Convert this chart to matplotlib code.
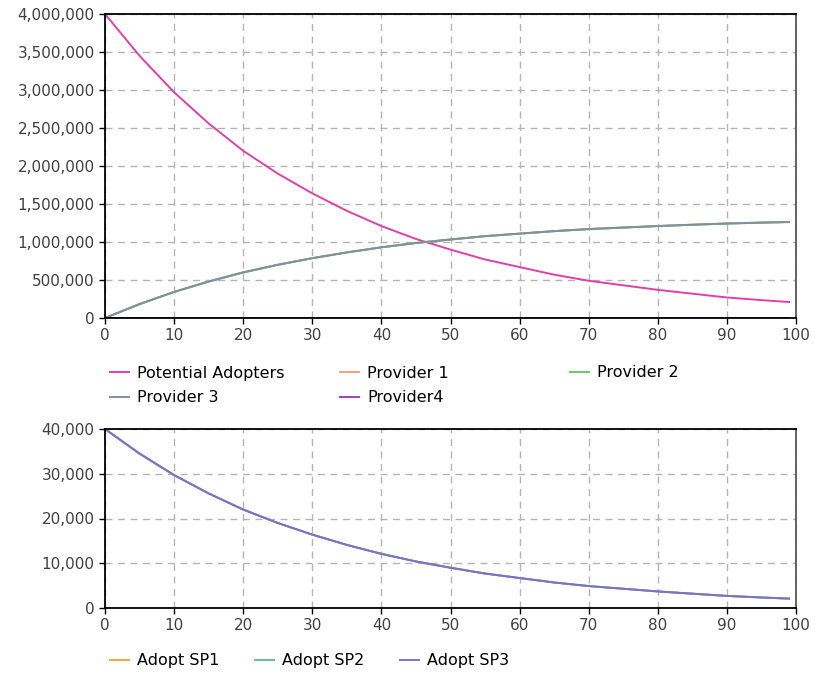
import matplotlib
matplotlib.use("Agg")
import matplotlib.pyplot as plt
from matplotlib.ticker import FuncFormatter, MultipleLocator

t = [0, 5, 10, 15, 20, 25, 30, 35, 40, 45, 50, 55, 60, 65, 70, 75, 80, 85, 90, 95, 99]
potential_adopters = [4000000, 3450000, 2970000, 2560000, 2200000, 1900000, 1640000, 1410000,
                      1210000, 1040000, 900000, 770000, 670000, 570000, 490000, 430000,
                      370000, 320000, 270000, 235000, 210000]
provider1 = [0, 183000, 343000, 480000, 600000, 700000, 787000, 863000, 930000, 987000,
             1033000, 1077000, 1110000, 1143000, 1170000, 1190000, 1210000, 1227000,
             1243000, 1255000, 1263000]
provider2 = list(provider1)
provider3 = list(provider1)
provider4 = [0] * len(t)

adopt_sp1 = [40000, 34500, 29700, 25600, 22000, 19000, 16400, 14100, 12100, 10400, 9000,
             7700, 6700, 5700, 4900, 4300, 3700, 3200, 2700, 2350, 2100]
adopt_sp2 = list(adopt_sp1)
adopt_sp3 = list(adopt_sp1)

top_labels = ["Potential Adopters", "Provider 1", "Provider 2", "Provider 3", "Provider4"]
top_colors = ["#e040a8", "#f4a07c", "#66cc66", "#8090a0", "#a040c0"]
bot_labels = ["Adopt SP1", "Adopt SP2", "Adopt SP3"]
bot_colors = ["#ffa040", "#60c090", "#7a70d0"]

fig = plt.figure(figsize=(8.15, 6.74), dpi=100)
ax1 = fig.add_axes([105/815, 1-318/674, (796-105)/815, (318-14)/674])
ax2 = fig.add_axes([105/815, 1-608/674, (796-105)/815, (608-429)/674])

fmt = FuncFormatter(lambda v, p: f"{int(round(v)):,}")

for ax in (ax1, ax2):
    ax.set_xlim(0, 100)
    ax.xaxis.set_major_locator(MultipleLocator(10))
    ax.grid(True, color="#b4b4b4", linestyle=(0, (5, 4)), linewidth=1.0)
    ax.set_axisbelow(True)
    ax.yaxis.set_major_formatter(fmt)
    ax.tick_params(direction="out", length=4, width=1, colors="black",
                   labelcolor="#404040", labelsize=11)
    for s in ax.spines.values():
        s.set_color("black")
        s.set_linewidth(1.3)
    ax.spines["right"].set_color("#555555")

series_top = [potential_adopters, provider1, provider2, provider3, provider4]
lines = []
for y, c, lab in zip(series_top, top_colors, top_labels):
    ln, = ax1.plot(t, y, color=c, lw=1.4, label=lab)
    lines.append(ln)
ax1.set_ylim(0, 4000000)
ax1.yaxis.set_major_locator(MultipleLocator(500000))

blines = []
for y, c, lab in zip([adopt_sp1, adopt_sp2, adopt_sp3], bot_colors, bot_labels):
    ln, = ax2.plot(t, y, color=c, lw=1.4, label=lab)
    blines.append(ln)
ax2.set_ylim(0, 40000)
ax2.yaxis.set_major_locator(MultipleLocator(10000))

leg_kw = dict(frameon=False, fontsize=11.5, handlelength=1.2, handletextpad=0.5,
              borderpad=0, borderaxespad=0, labelspacing=0.6)

# top legend: three columns, row-major order
top_cols = [[0, 3], [1, 4], [2]]
top_x = [110, 340, 570]
for xpix, idxs in zip(top_x, top_cols):
    ys = 373 if len(idxs) == 1 else 385.5
    fig.legend(handles=[lines[i] for i in idxs], labels=[top_labels[i] for i in idxs],
               loc="center left", bbox_to_anchor=(xpix/815, 1-ys/674), **leg_kw)

bot_x = [110, 255, 400]
for xpix, ln, lab in zip(bot_x, blines, bot_labels):
    fig.legend(handles=[ln], labels=[lab], loc="center left",
               bbox_to_anchor=(xpix/815, 1-661/674), **leg_kw)

fig.savefig("out.png", dpi=100)
